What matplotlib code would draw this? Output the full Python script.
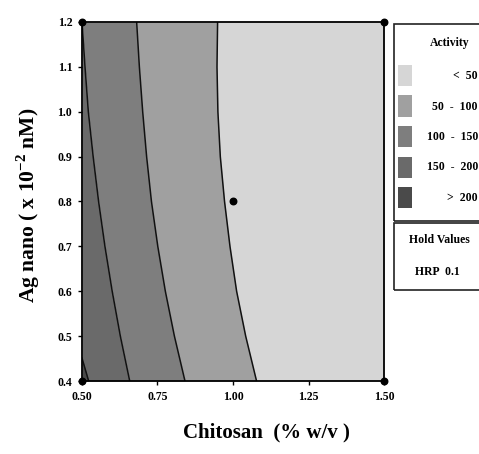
import matplotlib
matplotlib.use("Agg")
import matplotlib.pyplot as plt
from matplotlib.patches import Rectangle

# =============================
# DATA
# =============================
# y levels (Ag nano) where each contour boundary was read
ag_levels = [0.4, 0.5, 0.6, 0.7, 0.8, 0.9, 1.0, 1.1, 1.2]
# chitosan position of each contour boundary at those levels
edge_150 = [0.658, 0.627, 0.600, 0.576, 0.555, 0.537, 0.521, 0.510, 0.500]
edge_100 = [0.841, 0.806, 0.776, 0.751, 0.730, 0.714, 0.701, 0.690, 0.681]
edge_50 = [1.078, 1.042, 1.012, 0.990, 0.972, 0.958, 0.950, 0.947, 0.949]
# small >200 patch in the bottom-left corner
edge_200_y = [0.400, 0.451]
edge_200_x = [0.522, 0.500]

design_x = [0.5, 1.5, 0.5, 1.5, 1.0]
design_y = [0.4, 0.4, 1.2, 1.2, 0.8]

legend_labels = ["<  50", "50  -  100", "100  -  150", "150  -  200", ">  200"]
legend_colors = ["#d6d6d6", "#a0a0a0", "#7e7e7e", "#6a6a6a", "#4a4a4a"]

x_ticks = [0.50, 0.75, 1.00, 1.25, 1.50]
y_ticks = [0.4, 0.5, 0.6, 0.7, 0.8, 0.9, 1.0, 1.1, 1.2]

# =============================
# STYLE
# =============================
plt.rcParams["font.family"] = ["Liberation Serif", "DejaVu Serif"]
plt.rcParams["font.weight"] = "bold"
plt.rcParams["mathtext.fontset"] = "custom"
plt.rcParams["mathtext.rm"] = "Liberation Serif:bold"
plt.rcParams["mathtext.bf"] = "Liberation Serif:bold"

W, H = 479, 454
fig = plt.figure(figsize=(W / 100, H / 100), dpi=100)
ax = fig.add_axes([82 / W, 1 - 381 / H, 302 / W, 359 / H])

# =============================
# CONTOUR REGIONS
# =============================
xmin, xmax = 0.5, 1.5
ax.fill_betweenx(ag_levels, edge_50, xmax, color=legend_colors[0], lw=0)
ax.fill_betweenx(ag_levels, edge_100, edge_50, color=legend_colors[1], lw=0)
ax.fill_betweenx(ag_levels, edge_150, edge_100, color=legend_colors[2], lw=0)
ax.fill_betweenx(ag_levels, xmin, edge_150, color=legend_colors[3], lw=0)
ax.fill_betweenx(edge_200_y, xmin, edge_200_x, color=legend_colors[4], lw=0)

for edge in (edge_150, edge_100, edge_50):
    ax.plot(edge, ag_levels, color="#111111", lw=1.1)
ax.plot(edge_200_x, edge_200_y, color="#111111", lw=1.1)

ax.scatter(design_x, design_y, s=22, color="black", zorder=5, clip_on=False)

ax.set_xlim(xmin, xmax)
ax.set_ylim(0.4, 1.2)
ax.set_xticks(x_ticks)
ax.set_xticklabels(["%.2f" % v for v in x_ticks])
ax.set_yticks(y_ticks)
ax.set_yticklabels(["%.1f" % v for v in y_ticks])
ax.tick_params(direction="out", length=3, width=1, labelsize=8.5, pad=4)
for lab in ax.get_xticklabels() + ax.get_yticklabels():
    lab.set_fontweight("bold")
for sp in ax.spines.values():
    sp.set_linewidth(1.3)

fig.text(266 / W, 1 - 432 / H, "Chitosan  (% w/v )", ha="center", va="center",
         fontsize=15, fontweight="bold")
fig.text(28 / W, 1 - 205 / H, "Ag nano ( x 10$^{-2}$ nM)", ha="center", va="center",
         rotation=90, fontsize=15.5, fontweight="bold")

# =============================
# LEGEND PANEL (drawn in pixel coords)
# =============================
def px(x, y):
    return x / W, 1 - y / H

lx0 = 394
fig.add_artist(Rectangle(px(lx0, 221), 100 / W, 197 / H, transform=fig.transFigure,
                         fill=False, lw=1.2, ec="#222222"))
fig.add_artist(Rectangle(px(lx0, 290), 100 / W, 67 / H, transform=fig.transFigure,
                         fill=False, lw=1.2, ec="#222222"))
fig.text(*px(450, 43), "Activity", ha="center", va="center", fontsize=8.5, fontweight="bold")
for i, (lab, col) in enumerate(zip(legend_labels, legend_colors)):
    top = 65 + i * 30.5
    fig.add_artist(Rectangle(px(398, top + 21), 14 / W, 21 / H,
                             transform=fig.transFigure, color=col, lw=0))
    fig.text(*px(478, top + 11), lab, ha="right", va="center", fontsize=8.5, fontweight="bold")
fig.text(*px(409, 240), "Hold Values", ha="left", va="center", fontsize=8.5, fontweight="bold")
fig.text(*px(415, 272), "HRP  0.1", ha="left", va="center", fontsize=8.5, fontweight="bold")

fig.savefig("out.png", dpi=100)
